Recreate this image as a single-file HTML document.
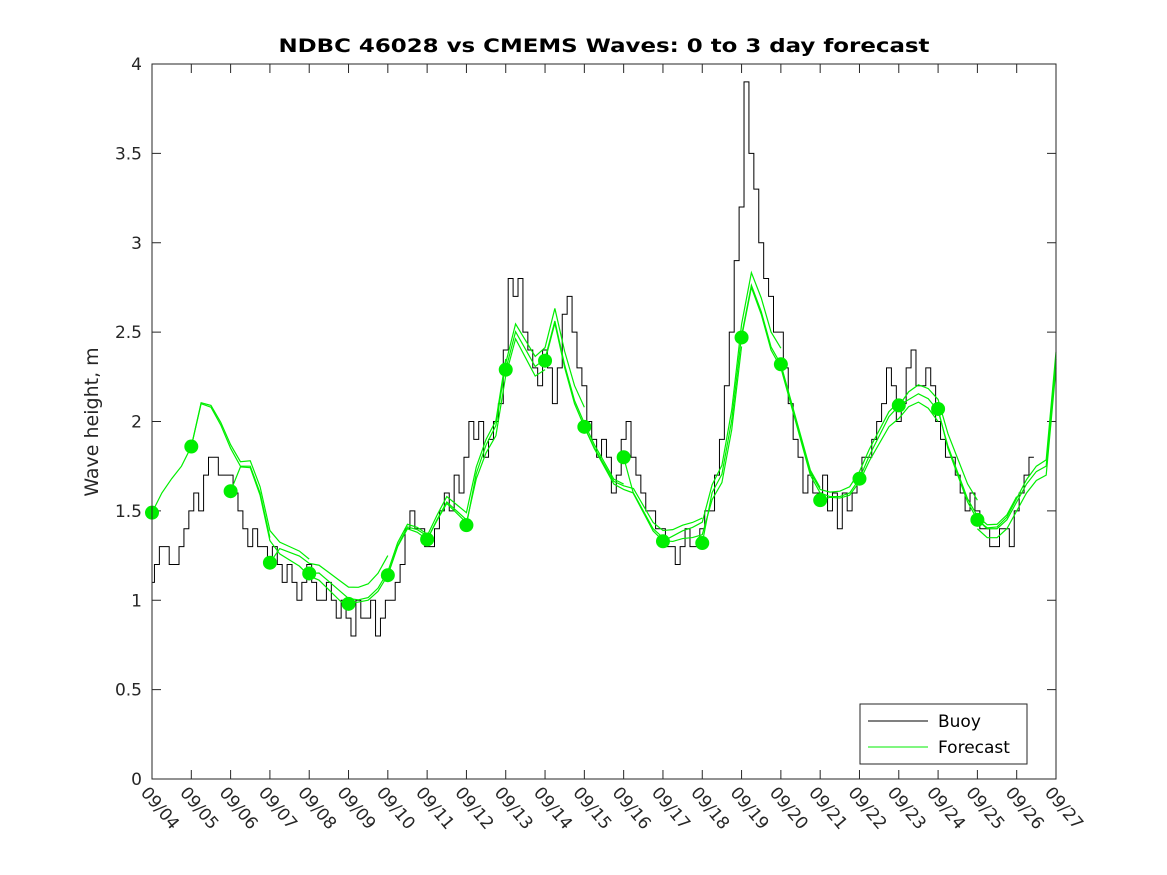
<!DOCTYPE html>
<html><head><meta charset="utf-8"><style>
body{margin:0;background:#fff;}
svg{display:block;font-family:"DejaVu Sans","Liberation Sans",sans-serif;}
</style></head><body>
<svg id="chart" width="1167" height="875">
<rect x="0" y="0" width="1167" height="875" fill="#fff"/>
<text x="604" y="52" text-anchor="middle" font-size="19" font-weight="bold" fill="#000" textLength="651" lengthAdjust="spacingAndGlyphs">NDBC 46028 vs CMEMS Waves: 0 to 3 day forecast</text>
<text transform="translate(98,422) rotate(-90)" text-anchor="middle" font-size="19" fill="#262626">Wave height, m</text>
<g id="grid"></g>
<g id="series"></g>
<rect x="152" y="64" width="904" height="715" fill="none" stroke="#262626" stroke-width="1"/>
<g>
<rect x="860" y="704" width="167" height="60" fill="#fff" stroke="#262626"/>
<line x1="868" y1="721" x2="928" y2="721" stroke="#000" stroke-width="1"/>
<text x="938" y="727" font-size="17" fill="#000">Buoy</text>
<line x1="868" y1="747" x2="928" y2="747" stroke="#00ee00" stroke-width="1"/>
<text x="938" y="753" font-size="17" fill="#000">Forecast</text>
</g>
</svg>
<script>
const xTickLabels=["09/04","09/05","09/06","09/07","09/08","09/09","09/10","09/11","09/12","09/13","09/14","09/15","09/16","09/17","09/18","09/19","09/20","09/21","09/22","09/23","09/24","09/25","09/26","09/27"];
const yTicks=[0,0.5,1,1.5,2,2.5,3,3.5,4];
const yTickLabels=["0","0.5","1","1.5","2","2.5","3","3.5","4"];
const markerDays=[0,1,2,3,4,5,6,7,8,9,10,11,12,13,14,15,16,17,18,19,20,21];
const markerValues=[1.49,1.86,1.61,1.21,1.15,0.98,1.14,1.34,1.42,2.29,2.34,1.97,1.80,1.33,1.32,2.47,2.32,1.56,1.68,2.09,2.07,1.45];
const forecast6h=[1.49,1.6,1.68,1.75, 1.86,2.1,2.08,1.98, 1.85,1.75,1.75,1.6, 1.35,1.28,1.25,1.22, 1.17,1.15,1.1,1.05, 1.0,0.99,1.0,1.05, 1.14,1.3,1.4,1.38, 1.34,1.45,1.55,1.5, 1.45,1.7,1.85,1.95, 2.29,2.5,2.4,2.3, 2.34,2.55,2.3,2.1, 1.97,1.85,1.75,1.65, 1.62,1.6,1.5,1.4, 1.35,1.35,1.37,1.38, 1.4,1.6,1.7,2.0, 2.47,2.75,2.6,2.4, 2.3,2.1,1.9,1.7, 1.6,1.58,1.58,1.6, 1.68,1.8,1.9,2.0, 2.05,2.12,2.15,2.12, 2.05,1.85,1.7,1.55, 1.45,1.4,1.4,1.45, 1.55,1.65,1.72,1.75, 2.35];
const runBias=[0,0.06,-0.05,0.11,0.03];
const buoy3h=[1.1,1.2,1.3,1.3,1.2,1.2,1.3,1.4, 1.5,1.6,1.5,1.7,1.8,1.8,1.7,1.7, 1.7,1.6,1.5,1.4,1.3,1.4,1.3,1.3, 1.2,1.3,1.2,1.1,1.2,1.1,1.0,1.1, 1.2,1.1,1.0,1.0,1.1,1.0,0.9,1.0, 0.9,0.8,1.0,0.9,0.9,1.0,0.8,0.9, 1.0,1.0,1.1,1.2,1.4,1.5,1.4,1.4, 1.3,1.3,1.4,1.5,1.6,1.5,1.7,1.6, 1.8,2.0,1.9,2.0,1.8,1.9,2.0,2.1, 2.4,2.8,2.7,2.8,2.5,2.4,2.3,2.2, 2.4,2.3,2.1,2.3,2.6,2.7,2.5,2.3, 2.2,2.0,1.9,1.8,1.9,1.8,1.6,1.7, 1.9,2.0,1.8,1.7,1.6,1.5,1.5,1.4, 1.4,1.3,1.3,1.2,1.3,1.4,1.3,1.3, 1.4,1.5,1.5,1.7,1.9,2.2,2.5,2.9, 3.2,3.9,3.5,3.3,3.0,2.8,2.7,2.5, 2.5,2.3,2.1,1.9,1.8,1.6,1.7,1.6, 1.6,1.7,1.5,1.6,1.4,1.6,1.5,1.6, 1.7,1.8,1.8,1.9,2.0,2.1,2.3,2.2, 2.0,2.1,2.3,2.4,2.2,2.2,2.3,2.2, 2.0,1.9,1.8,1.8,1.7,1.6,1.5,1.6, 1.5,1.4,1.4,1.3,1.3,1.4,1.4,1.3, 1.5,1.6,1.7,1.8];

const NS="http://www.w3.org/2000/svg";
const X0=152,X1=1056,Y0=779,Y1=64,DAYS=23,YMAX=4;
const xs=d=>X0+(X1-X0)*d/DAYS;
const ys=v=>Y0-(Y0-Y1)*v/YMAX;
const grid=document.getElementById('grid'),series=document.getElementById('series');
function mk(tag,attrs,parent){const e=document.createElementNS(NS,tag);for(const k in attrs)e.setAttribute(k,attrs[k]);parent.appendChild(e);return e;}

yTicks.forEach((v,i)=>{
  const y=ys(v);
  mk('line',{x1:X0,y1:y,x2:X0+9,y2:y,stroke:'#262626'},grid);
  mk('line',{x1:X1-9,y1:y,x2:X1,y2:y,stroke:'#262626'},grid);
  const t=mk('text',{x:X0-10,y:y+6,'text-anchor':'end','font-size':17,fill:'#262626'},grid);
  t.textContent=yTickLabels[i];
  
  
});
xTickLabels.forEach((lab,i)=>{
  const x=xs(i);
  mk('line',{x1:x,y1:Y0,x2:x,y2:Y0-9,stroke:'#262626'},grid);
  mk('line',{x1:x,y1:Y1,x2:x,y2:Y1+9,stroke:'#262626'},grid);
  const t=mk('text',{transform:`translate(${x-12},${Y0+14}) rotate(50)`,'font-size':17,fill:'#262626'},grid);
  t.textContent=lab;
  
  
});

let d='';
buoy3h.forEach((v,i)=>{
  const x=xs(i/8),y=ys(v);
  if(i===0)d+=`M${x},${y}`;else d+=`V${y}H${x}`;
  d+=`H${xs((i+0.5)/8)}`;
});
const bp=mk('path',{d:d,fill:'none',stroke:'#000','stroke-width':1},series);



markerDays.forEach((day,ri)=>{
  const bias=runBias[ri%runBias.length];
  const pts=[];
  for(let k=0;k<=12;k++){
    const idx=day*4+k;
    if(idx>=forecast6h.length)break;
    const v=(k===0?markerValues[ri]:forecast6h[idx]+bias*k/12);
    pts.push(`${xs(idx/4)},${ys(v)}`);
  }
  const pl=mk('polyline',{points:pts.join(' '),fill:'none',stroke:'#00ee00','stroke-width':1.2},series);
  
  
});
{
  const pts=[];
  for(let idx=84;idx<forecast6h.length;idx++)pts.push(`${xs(idx/4)},${ys(forecast6h[idx]-0.05)}`);
  const pl=mk('polyline',{points:pts.join(' '),fill:'none',stroke:'#00ee00','stroke-width':1.2},series);
  
  
}
markerDays.forEach((day,i)=>{
  const c=mk('circle',{cx:xs(day),cy:ys(markerValues[i]),r:7,fill:'#00ee00'},series);
  
  
});
</script>
</body></html>
